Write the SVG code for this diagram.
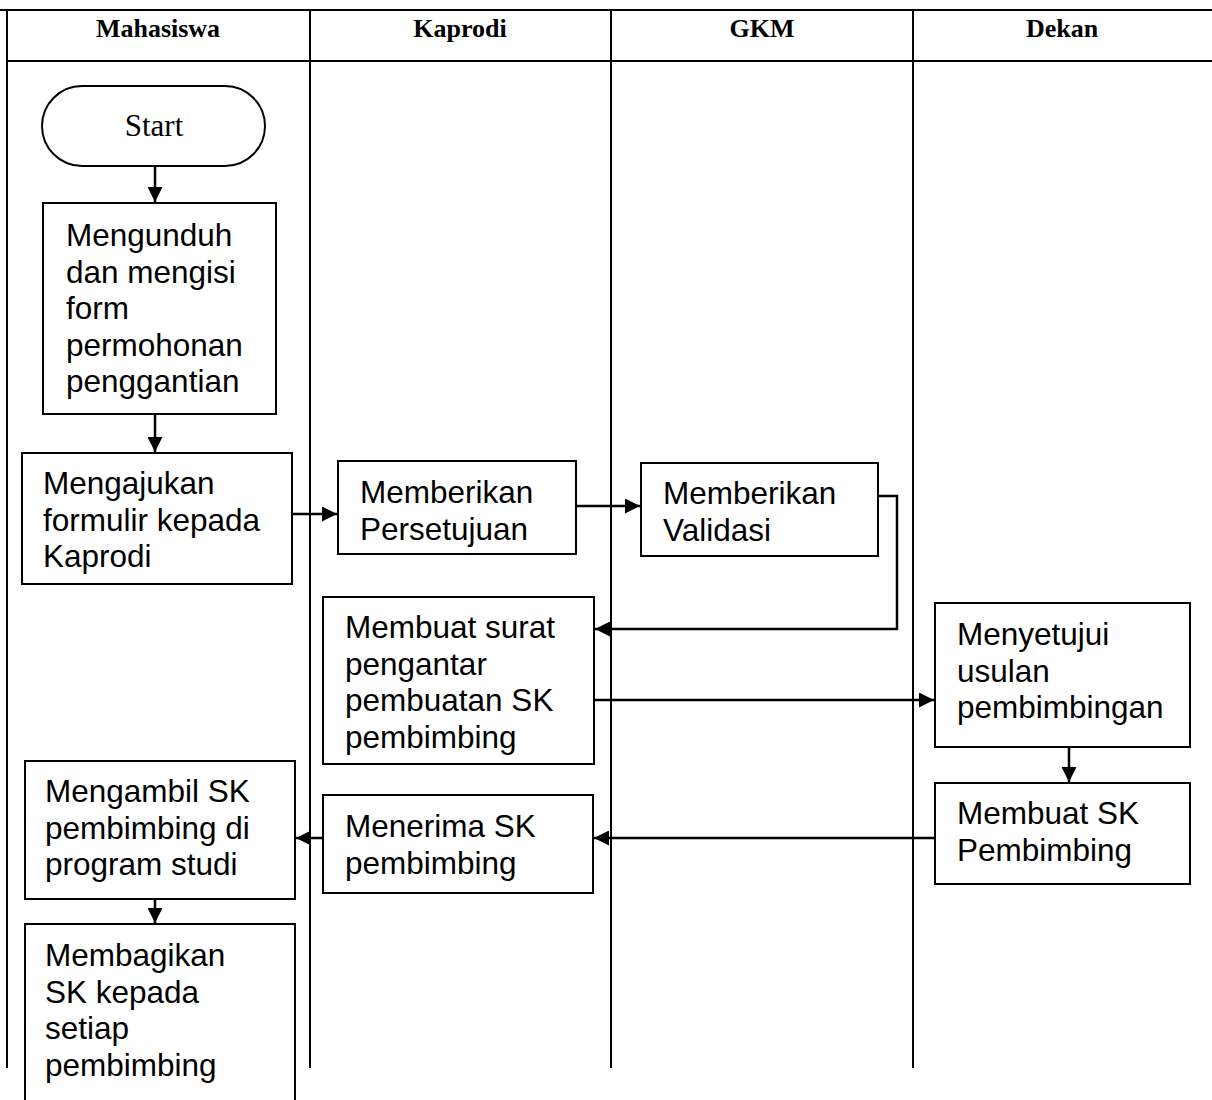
<svg xmlns="http://www.w3.org/2000/svg" width="1212" height="1100" viewBox="0 0 1212 1100">
<style>
.lane{stroke:#000;stroke-width:2;fill:none}
.hdr{font-family:"Liberation Serif",serif;font-weight:bold;font-size:26px;text-anchor:middle;fill:#000}
.box{fill:#fff;stroke:#000;stroke-width:2}
.t{font-family:"Liberation Sans",Arial,sans-serif;font-size:31.5px;fill:#000}
.st{font-family:"Liberation Serif",serif;font-size:31px;text-anchor:middle;fill:#000}
.c{fill:none;stroke:#000;stroke-width:2.5}
</style>
<defs>
<marker id="ah" viewBox="0 0 10 10" refX="10" refY="5" markerWidth="6" markerHeight="6" markerUnits="strokeWidth" orient="auto">
<path d="M0,0 L10,5 L0,10 Z" fill="#000"/>
</marker>
</defs>
<rect width="1212" height="1100" fill="#fff"/>
<g id="lanes">
<line class="lane" x1="0" y1="10" x2="1212" y2="10"/>
<line class="lane" x1="7" y1="61" x2="1212" y2="61"/>
<line class="lane" x1="7" y1="9" x2="7" y2="1068"/>
<line class="lane" x1="310" y1="9" x2="310" y2="1068"/>
<line class="lane" x1="611" y1="9" x2="611" y2="1068"/>
<line class="lane" x1="913" y1="9" x2="913" y2="1068"/>
<text class="hdr" x="158" y="37">Mahasiswa</text>
<text class="hdr" x="460" y="37">Kaprodi</text>
<text class="hdr" x="762" y="37">GKM</text>
<text class="hdr" x="1062" y="37">Dekan</text>
</g>
<g id="connectors">
<line class="c" x1="155" y1="166" x2="155" y2="202" marker-end="url(#ah)"/>
<line class="c" x1="155" y1="414" x2="155" y2="452" marker-end="url(#ah)"/>
<line class="c" x1="292" y1="514" x2="337" y2="514" marker-end="url(#ah)"/>
<line class="c" x1="576" y1="506" x2="640" y2="506" marker-end="url(#ah)"/>
<polyline class="c" points="878,496 897,496 897,629 595,629" marker-end="url(#ah)"/>
<line class="c" x1="594" y1="700" x2="934" y2="700" marker-end="url(#ah)"/>
<line class="c" x1="1069" y1="747" x2="1069" y2="782" marker-end="url(#ah)"/>
<line class="c" x1="935" y1="838" x2="594" y2="838" marker-end="url(#ah)"/>
<line class="c" x1="323" y1="838" x2="296" y2="838" marker-end="url(#ah)"/>
<line class="c" x1="155" y1="899" x2="155" y2="923" marker-end="url(#ah)"/>
</g>
<g id="start">
<rect class="box" x="42" y="86" width="223" height="80" rx="40" ry="40"/>
<text class="st" x="154" y="136">Start</text>
</g>
<g id="n1">
<rect class="box" x="43" y="203" width="233" height="211"/>
<text class="t" x="66" y="246">Mengunduh<tspan x="66" dy="36.5">dan mengisi</tspan><tspan x="66" dy="36.5">form</tspan><tspan x="66" dy="36.5">permohonan</tspan><tspan x="66" dy="36.5">penggantian</tspan></text>
</g>
<g id="n2">
<rect class="box" x="22" y="453" width="270" height="131"/>
<text class="t" x="43" y="494">Mengajukan<tspan x="43" dy="36.5">formulir kepada</tspan><tspan x="43" dy="36.5">Kaprodi</tspan></text>
</g>
<g id="n3">
<rect class="box" x="338" y="461" width="238" height="93"/>
<text class="t" x="360" y="503">Memberikan<tspan x="360" dy="36.5">Persetujuan</tspan></text>
</g>
<g id="n4">
<rect class="box" x="641" y="463" width="237" height="93"/>
<text class="t" x="663" y="504">Memberikan<tspan x="663" dy="36.5">Validasi</tspan></text>
</g>
<g id="n5">
<rect class="box" x="323" y="597" width="271" height="167"/>
<text class="t" x="345" y="638">Membuat surat<tspan x="345" dy="36.5">pengantar</tspan><tspan x="345" dy="36.5">pembuatan SK</tspan><tspan x="345" dy="36.5">pembimbing</tspan></text>
</g>
<g id="n6">
<rect class="box" x="935" y="603" width="255" height="144"/>
<text class="t" x="957" y="645">Menyetujui<tspan x="957" dy="36.5">usulan</tspan><tspan x="957" dy="36.5">pembimbingan</tspan></text>
</g>
<g id="n7">
<rect class="box" x="935" y="783" width="255" height="101"/>
<text class="t" x="957" y="824">Membuat SK<tspan x="957" dy="36.5">Pembimbing</tspan></text>
</g>
<g id="n8">
<rect class="box" x="323" y="795" width="270" height="98"/>
<text class="t" x="345" y="837">Menerima SK<tspan x="345" dy="36.5">pembimbing</tspan></text>
</g>
<g id="n9">
<rect class="box" x="25" y="761" width="270" height="138"/>
<text class="t" x="45" y="802">Mengambil SK<tspan x="45" dy="36.5">pembimbing di</tspan><tspan x="45" dy="36.5">program studi</tspan></text>
</g>
<g id="n10">
<rect class="box" x="25" y="924" width="270" height="190"/>
<text class="t" x="45" y="966">Membagikan<tspan x="45" dy="36.5">SK kepada</tspan><tspan x="45" dy="36.5">setiap</tspan><tspan x="45" dy="36.5">pembimbing</tspan></text>
</g>
</svg>
